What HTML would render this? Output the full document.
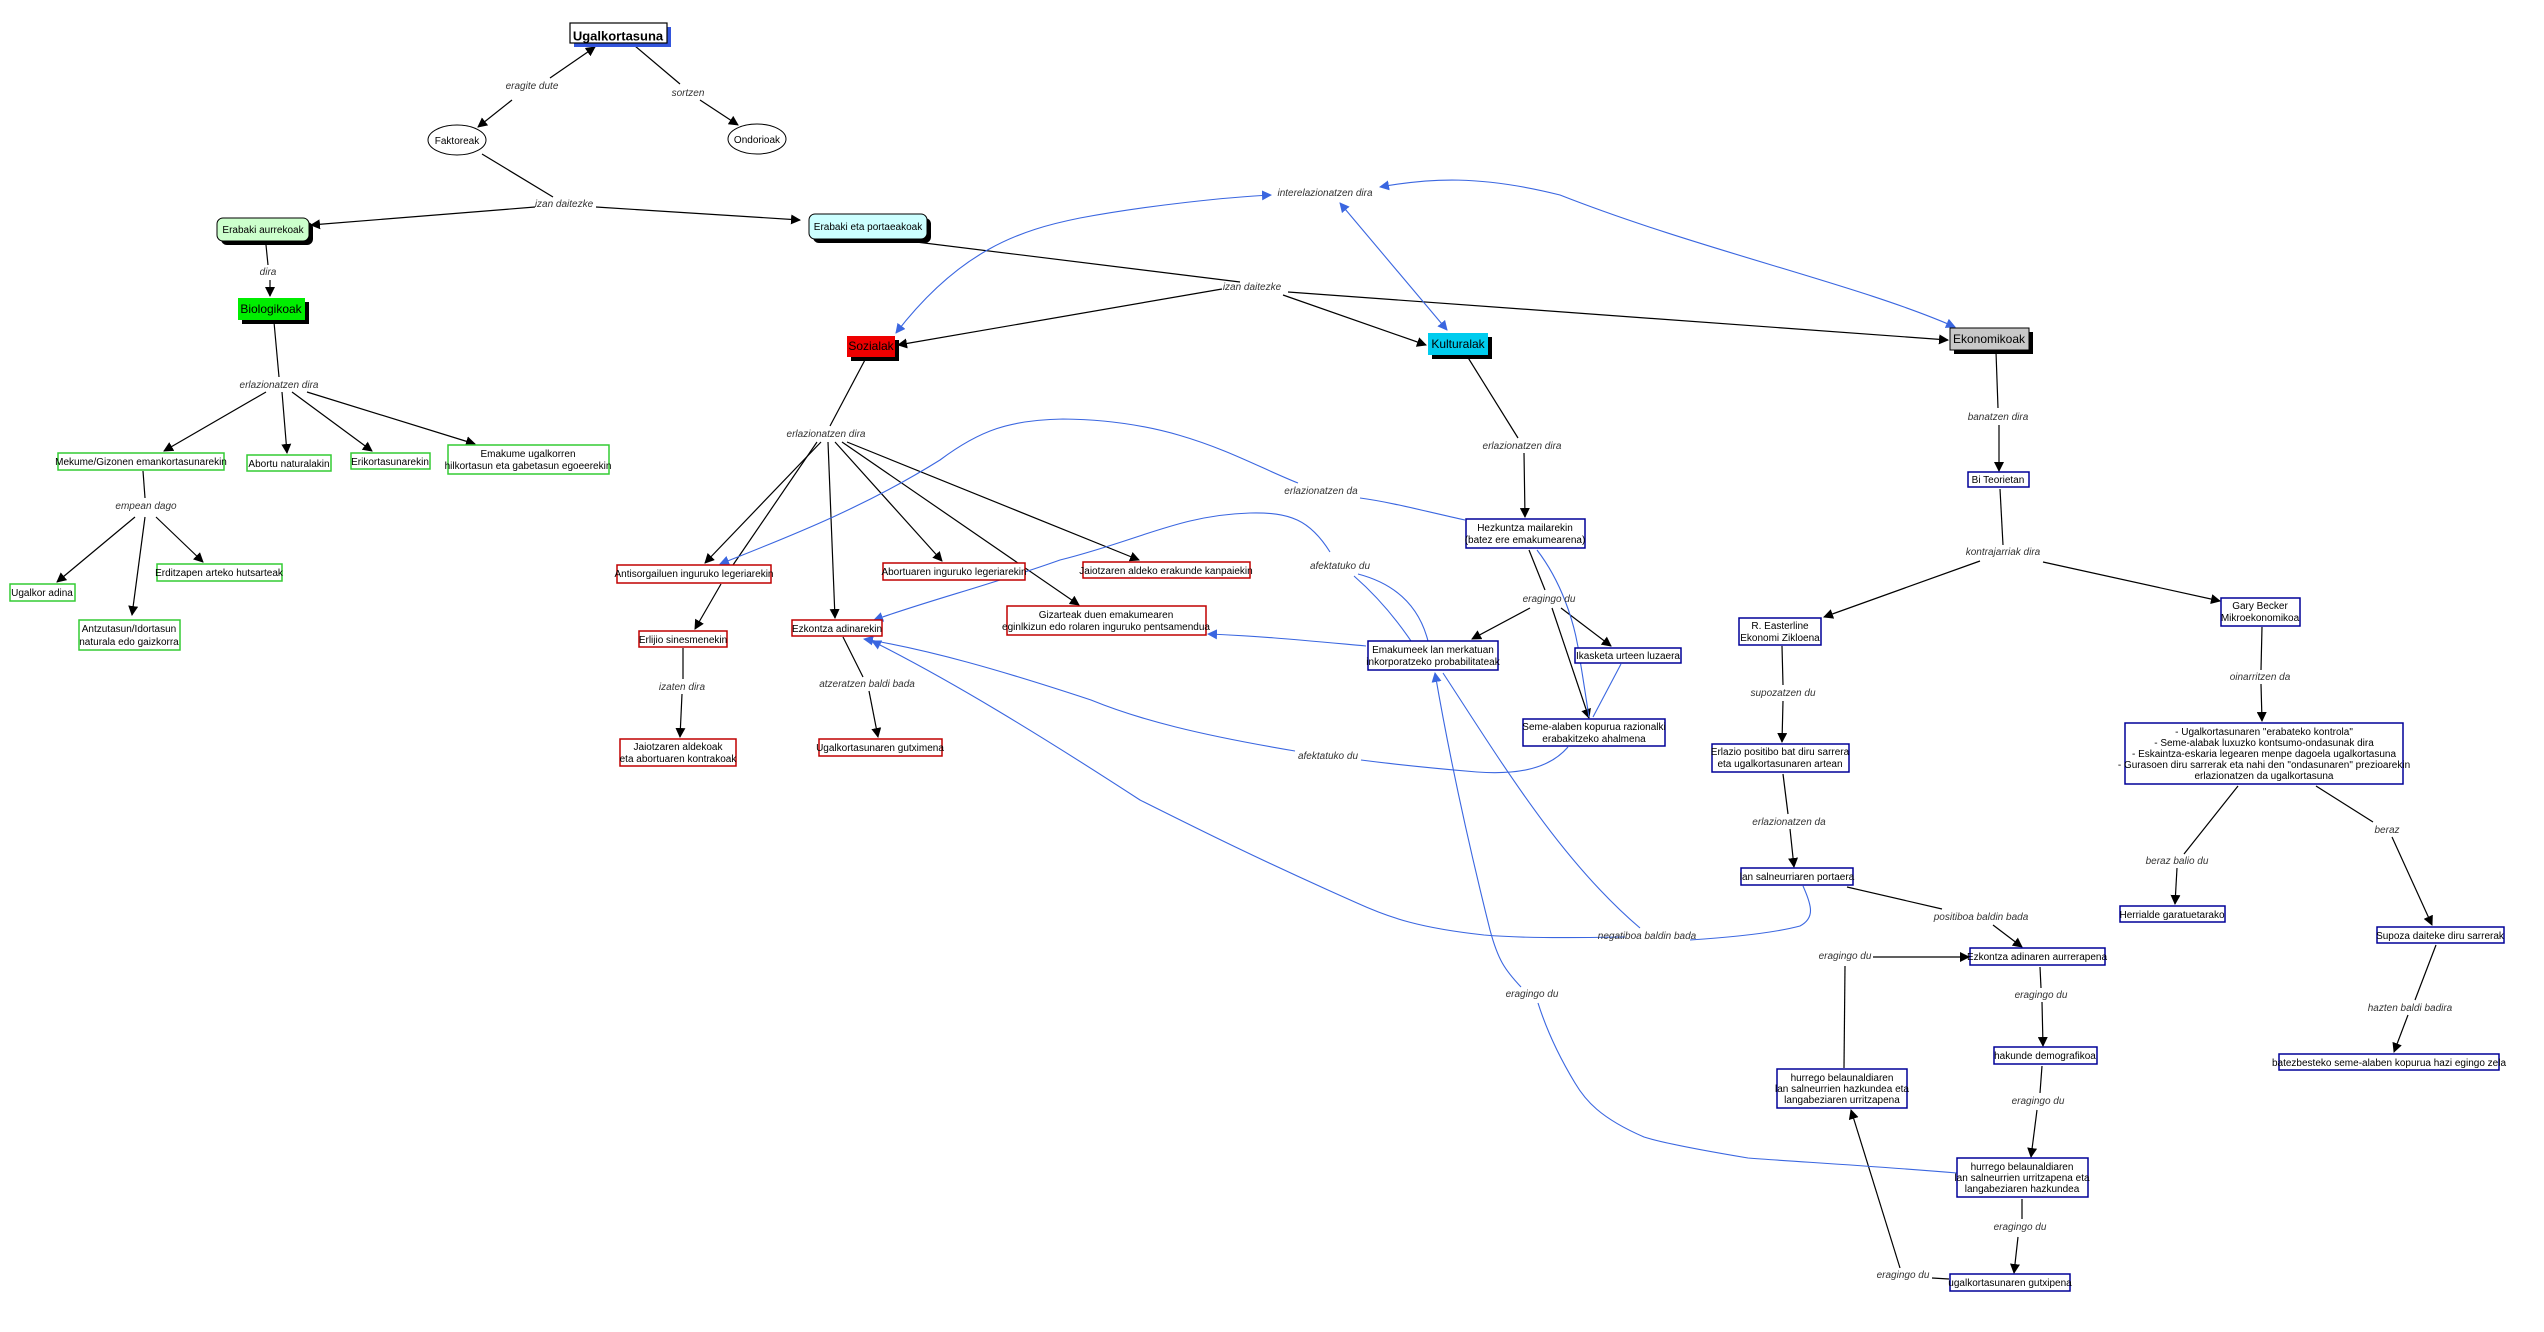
<!DOCTYPE html>
<html><head><meta charset="utf-8"><style>
html,body{margin:0;padding:0;background:#fff}
svg{display:block}
.n{font-family:"Liberation Sans",sans-serif;font-size:10px;fill:#000;text-anchor:middle}
.l{font-family:"Liberation Sans",sans-serif;font-size:10px;font-style:italic;fill:#333;text-anchor:middle}
.k{stroke:#000;stroke-width:1.2;fill:none}
.b{stroke:#3a66e0;stroke-width:1.1;fill:none}
.g{fill:#fff;stroke:#33cc33;stroke-width:1.5}
.r{fill:#fff;stroke:#c00000;stroke-width:1.5}
.v{fill:#fff;stroke:#000099;stroke-width:1.5}
</style></head><body>
<svg width="2544" height="1332" viewBox="0 0 2544 1332" xmlns="http://www.w3.org/2000/svg">
<defs>
<marker id="a" viewBox="0 0 10 10" refX="9" refY="5" markerWidth="10" markerHeight="10" markerUnits="userSpaceOnUse" orient="auto"><path d="M0,0L10,5L0,10z" fill="#000"/></marker>
<marker id="s" viewBox="0 0 10 10" refX="1" refY="5" markerWidth="10" markerHeight="10" markerUnits="userSpaceOnUse" orient="auto"><path d="M10,0L0,5L10,10z" fill="#000"/></marker>
<marker id="ba" viewBox="0 0 10 10" refX="9" refY="5" markerWidth="10" markerHeight="10" markerUnits="userSpaceOnUse" orient="auto"><path d="M0,0L10,5L0,10z" fill="#3a66e0"/></marker>
<marker id="bs" viewBox="0 0 10 10" refX="1" refY="5" markerWidth="10" markerHeight="10" markerUnits="userSpaceOnUse" orient="auto"><path d="M10,0L0,5L10,10z" fill="#3a66e0"/></marker>
</defs>

<!-- black connectors -->
<g class="k">
<line x1="478" y1="127" x2="512" y2="100" marker-start="url(#s)"/>
<line x1="550" y1="78" x2="595" y2="47" marker-end="url(#a)"/>
<line x1="635" y1="46" x2="680" y2="84"/>
<line x1="700" y1="100" x2="738" y2="125" marker-end="url(#a)"/>
<line x1="482" y1="154" x2="553" y2="197"/>
<line x1="535" y1="207" x2="311" y2="225" marker-end="url(#a)"/>
<line x1="596" y1="207" x2="800" y2="220" marker-end="url(#a)"/>
<line x1="266" y1="245" x2="268" y2="265"/>
<line x1="270" y1="280" x2="270" y2="296" marker-end="url(#a)"/>
<line x1="274" y1="322" x2="279" y2="377"/>
<line x1="266" y1="392" x2="164" y2="451" marker-end="url(#a)"/>
<line x1="282" y1="392" x2="287" y2="453" marker-end="url(#a)"/>
<line x1="292" y1="392" x2="372" y2="451" marker-end="url(#a)"/>
<line x1="307" y1="392" x2="475" y2="444" marker-end="url(#a)"/>
<line x1="143" y1="471" x2="145" y2="498"/>
<line x1="135" y1="517" x2="57" y2="582" marker-end="url(#a)"/>
<line x1="145" y1="517" x2="132" y2="615" marker-end="url(#a)"/>
<line x1="156" y1="517" x2="203" y2="562" marker-end="url(#a)"/>
<line x1="900" y1="240" x2="1240" y2="282"/>
<line x1="1222" y1="289" x2="898" y2="345" marker-end="url(#a)"/>
<line x1="1283" y1="295" x2="1426" y2="345" marker-end="url(#a)"/>
<line x1="1288" y1="292" x2="1948" y2="340" marker-end="url(#a)"/>
<line x1="866" y1="358" x2="830" y2="426"/>
<line x1="821" y1="442" x2="705" y2="563" marker-end="url(#a)"/>
<line x1="817" y1="442" x2="733" y2="565"/>
<line x1="828" y1="442" x2="835" y2="618" marker-end="url(#a)"/>
<line x1="835" y1="442" x2="942" y2="561" marker-end="url(#a)"/>
<line x1="842" y1="442" x2="1079" y2="605" marker-end="url(#a)"/>
<line x1="847" y1="442" x2="1139" y2="560" marker-end="url(#a)"/>
<line x1="721" y1="584" x2="695" y2="629" marker-end="url(#a)"/>
<line x1="683" y1="648" x2="683" y2="679"/>
<line x1="682" y1="694" x2="680" y2="737" marker-end="url(#a)"/>
<line x1="843" y1="637" x2="863" y2="677"/>
<line x1="869" y1="691" x2="878" y2="737" marker-end="url(#a)"/>
<line x1="1467" y1="356" x2="1518" y2="438"/>
<line x1="1524" y1="453" x2="1525" y2="517" marker-end="url(#a)"/>
<line x1="1529" y1="550" x2="1545" y2="590"/>
<line x1="1530" y1="608" x2="1472" y2="639" marker-end="url(#a)"/>
<line x1="1561" y1="608" x2="1611" y2="646" marker-end="url(#a)"/>
<line x1="1552" y1="608" x2="1589" y2="718" marker-end="url(#a)"/>
<line x1="1996" y1="352" x2="1998" y2="408"/>
<line x1="1999" y1="425" x2="1999" y2="471" marker-end="url(#a)"/>
<line x1="2000" y1="489" x2="2003" y2="545"/>
<line x1="1980" y1="561" x2="1824" y2="617" marker-end="url(#a)"/>
<line x1="2043" y1="562" x2="2220" y2="601" marker-end="url(#a)"/>
<line x1="1782" y1="646" x2="1783" y2="685"/>
<line x1="1783" y1="701" x2="1782" y2="742" marker-end="url(#a)"/>
<line x1="1783" y1="774" x2="1788" y2="814"/>
<line x1="1790" y1="829" x2="1794" y2="867" marker-end="url(#a)"/>
<line x1="1847" y1="887" x2="1942" y2="909"/>
<line x1="1993" y1="925" x2="2022" y2="947" marker-end="url(#a)"/>
<line x1="1844" y1="1068" x2="1845" y2="966"/>
<line x1="1873" y1="957" x2="1969" y2="957" marker-end="url(#a)"/>
<line x1="2040" y1="967" x2="2041" y2="988"/>
<line x1="2042" y1="1002" x2="2043" y2="1046" marker-end="url(#a)"/>
<line x1="2042" y1="1066" x2="2040" y2="1093"/>
<line x1="2037" y1="1110" x2="2031" y2="1157" marker-end="url(#a)"/>
<line x1="2022" y1="1199" x2="2022" y2="1219"/>
<line x1="2018" y1="1237" x2="2014" y2="1273" marker-end="url(#a)"/>
<line x1="1949" y1="1279" x2="1932" y2="1278"/>
<line x1="1900" y1="1268" x2="1851" y2="1110" marker-end="url(#a)"/>
<line x1="2262" y1="627" x2="2261" y2="670"/>
<line x1="2261" y1="684" x2="2262" y2="721" marker-end="url(#a)"/>
<line x1="2238" y1="786" x2="2184" y2="854"/>
<line x1="2177" y1="868" x2="2175" y2="904" marker-end="url(#a)"/>
<line x1="2316" y1="786" x2="2373" y2="822"/>
<line x1="2392" y1="837" x2="2432" y2="925" marker-end="url(#a)"/>
<line x1="2436" y1="945" x2="2415" y2="1000"/>
<line x1="2408" y1="1015" x2="2394" y2="1052" marker-end="url(#a)"/>
</g>

<!-- blue connectors -->
<g class="b">
<path d="M896,333 C960,250 1020,230 1080,218 C1150,205 1230,197 1271,195" marker-start="url(#bs)" marker-end="url(#ba)"/>
<path d="M1340,203 L1447,330" marker-start="url(#bs)" marker-end="url(#ba)"/>
<path d="M1380,187 C1430,178 1480,175 1560,195 C1700,250 1860,285 1955,327" marker-start="url(#bs)" marker-end="url(#ba)"/>
<path d="M1465,520 C1420,510 1390,502 1360,498"/>
<path d="M1298,483 C1240,460 1180,420 1063,419 C1010,420 980,430 940,460 C860,510 780,540 720,564" marker-end="url(#ba)"/>
<path d="M1411,641 C1390,610 1370,590 1354,576"/>
<path d="M1428,641 C1420,610 1400,585 1358,574"/>
<path d="M1330,552 C1310,520 1290,512 1250,513 C1180,515 1140,540 1060,560 C990,585 930,600 874,620" marker-end="url(#ba)"/>
<path d="M1366,646 C1300,640 1260,636 1208,634" marker-end="url(#ba)"/>
<path d="M1568,747 C1550,768 1520,775 1477,772 C1430,768 1400,765 1361,760"/>
<path d="M1295,751 C1200,735 1140,720 1091,700 C1000,670 930,650 864,639" marker-end="url(#ba)"/>
<path d="M1537,550 C1560,580 1575,620 1580,660 C1585,690 1587,705 1589,717"/>
<path d="M1621,664 L1593,717"/>
<path d="M1803,886 C1812,906 1815,918 1800,926 C1770,934 1720,938 1690,940"/>
<path d="M1625,937 C1560,938 1520,938 1484,935 C1420,928 1390,918 1357,903 C1260,860 1200,830 1140,800 C1040,735 950,680 872,641" marker-end="url(#ba)"/>
<path d="M1640,928 C1560,860 1500,760 1443,673"/>
<path d="M1957,1173 C1860,1165 1800,1162 1748,1158 C1700,1150 1660,1142 1644,1137 C1600,1118 1585,1100 1575,1083 C1555,1050 1545,1025 1538,1003"/>
<path d="M1521,987 C1505,970 1498,960 1490,930 C1470,850 1450,760 1435,673" marker-end="url(#ba)"/>
</g>

<!-- nodes -->
<rect x="574" y="27" width="97" height="20" fill="#3355dd"/>
<rect x="570" y="23" width="97" height="20" fill="#fff" stroke="#000" stroke-width="1.2"/>
<text x="618" y="37" class="n" style="font-size:13px;font-weight:bold" dominant-baseline="middle">Ugalkortasuna</text>

<ellipse cx="457" cy="140" rx="29" ry="15" fill="#fff" stroke="#000"/>
<text x="457" y="144" class="n">Faktoreak</text>
<ellipse cx="757" cy="139" rx="29" ry="15" fill="#fff" stroke="#000"/>
<text x="757" y="143" class="n">Ondorioak</text>

<rect x="221" y="222" width="92" height="23" rx="6" fill="#000"/>
<rect x="217" y="218" width="92" height="23" rx="6" fill="#ccffcc" stroke="#000"/>
<text x="263" y="233" class="n">Erabaki aurrekoak</text>

<rect x="813" y="218" width="118" height="25" rx="6" fill="#000"/>
<rect x="809" y="214" width="118" height="25" rx="6" fill="#ccffff" stroke="#000"/>
<text x="868" y="230" class="n">Erabaki eta portaeakoak</text>

<rect x="242" y="302" width="67" height="22" fill="#000"/>
<rect x="238" y="298" width="67" height="22" fill="#00ee00"/>
<text x="271" y="313" class="n" style="font-size:12px">Biologikoak</text>

<rect x="851" y="340" width="48" height="21" fill="#000"/>
<rect x="847" y="336" width="48" height="21" fill="#ee0000"/>
<text x="871" y="350" class="n" style="font-size:12px">Sozialak</text>

<rect x="1432" y="337" width="60" height="22" fill="#000"/>
<rect x="1428" y="333" width="60" height="22" fill="#00ccee"/>
<text x="1458" y="348" class="n" style="font-size:12px">Kulturalak</text>

<rect x="1954" y="332" width="79" height="22" fill="#000"/>
<rect x="1950" y="328" width="79" height="22" fill="#c8c8c8" stroke="#000"/>
<text x="1989" y="343" class="n" style="font-size:12px">Ekonomikoak</text>

<!-- green boxes -->
<rect x="58" y="453" width="166" height="17" class="g"/><text x="141" y="465" class="n">Mekume/Gizonen emankortasunarekin</text>
<rect x="247" y="455" width="84" height="16" class="g"/><text x="289" y="467" class="n">Abortu naturalakin</text>
<rect x="351" y="453" width="79" height="16" class="g"/><text x="390" y="465" class="n">Erikortasunarekin</text>
<rect x="448" y="445" width="161" height="29" class="g"/><text x="528" y="457" class="n">Emakume ugalkorren</text><text x="528" y="469" class="n">hilkortasun eta gabetasun egoeerekin</text>
<rect x="10" y="584" width="65" height="17" class="g"/><text x="42" y="596" class="n">Ugalkor adina</text>
<rect x="157" y="564" width="125" height="17" class="g"/><text x="219" y="576" class="n">Erditzapen arteko hutsarteak</text>
<rect x="79" y="620" width="101" height="30" class="g"/><text x="129" y="632" class="n">Antzutasun/Idortasun</text><text x="129" y="645" class="n">naturala edo gaizkorra</text>

<!-- red boxes -->
<rect x="617" y="565" width="154" height="18" class="r"/><text x="694" y="577" class="n">Antisorgailuen inguruko legeriarekin</text>
<rect x="883" y="563" width="142" height="17" class="r"/><text x="954" y="575" class="n">Abortuaren inguruko legeriarekin</text>
<rect x="1083" y="562" width="167" height="16" class="r"/><text x="1166" y="574" class="n">Jaiotzaren aldeko erakunde kanpaiekin</text>
<rect x="1007" y="606" width="199" height="29" class="r"/><text x="1106" y="618" class="n">Gizarteak duen emakumearen</text><text x="1106" y="630" class="n">eginlkizun edo rolaren inguruko pentsamendua</text>
<rect x="792" y="620" width="90" height="16" class="r"/><text x="837" y="632" class="n">Ezkontza adinarekin</text>
<rect x="639" y="631" width="88" height="16" class="r"/><text x="683" y="643" class="n">Erlijio sinesmenekin</text>
<rect x="620" y="739" width="116" height="27" class="r"/><text x="678" y="750" class="n">Jaiotzaren aldekoak</text><text x="678" y="762" class="n">eta abortuaren kontrakoak</text>
<rect x="819" y="739" width="123" height="17" class="r"/><text x="880" y="751" class="n">Ugalkortasunaren gutximena</text>

<!-- blue boxes -->
<rect x="1466" y="519" width="119" height="29" class="v"/><text x="1525" y="531" class="n">Hezkuntza mailarekin</text><text x="1525" y="543" class="n">(batez ere emakumearena)</text>
<rect x="1368" y="641" width="130" height="29" class="v"/><text x="1433" y="653" class="n">Emakumeek lan merkatuan</text><text x="1433" y="665" class="n">inkorporatzeko probabilitateak</text>
<rect x="1575" y="648" width="106" height="15" class="v"/><text x="1628" y="659" class="n">Ikasketa urteen luzaera</text>
<rect x="1523" y="719" width="142" height="27" class="v"/><text x="1594" y="730" class="n">Seme-alaben kopurua razionalki</text><text x="1594" y="742" class="n">erabakitzeko ahalmena</text>
<rect x="1968" y="472" width="61" height="15" class="v"/><text x="1998" y="483" class="n">Bi Teorietan</text>
<rect x="1739" y="618" width="82" height="27" class="v"/><text x="1780" y="629" class="n">R. Easterline</text><text x="1780" y="641" class="n">Ekonomi Zikloena</text>
<rect x="2221" y="598" width="79" height="28" class="v"/><text x="2260" y="609" class="n">Gary Becker</text><text x="2260" y="621" class="n">Mikroekonomikoa</text>
<rect x="1712" y="744" width="137" height="28" class="v"/><text x="1780" y="755" class="n">Erlazio positibo bat diru sarrera</text><text x="1780" y="767" class="n">eta ugalkortasunaren artean</text>
<rect x="2125" y="723" width="278" height="61" class="v"/>
<text x="2264" y="735" class="n">- Ugalkortasunaren "erabateko kontrola"</text>
<text x="2264" y="746" class="n">- Seme-alabak luxuzko kontsumo-ondasunak dira</text>
<text x="2264" y="757" class="n">- Eskaintza-eskaria legearen menpe dagoela ugalkortasuna</text>
<text x="2264" y="768" class="n">- Gurasoen diru sarrerak eta nahi den "ondasunaren" prezioarekin</text>
<text x="2264" y="779" class="n">erlazionatzen da ugalkortasuna</text>
<rect x="1741" y="868" width="112" height="17" class="v"/><text x="1797" y="880" class="n">lan salneurriaren portaera</text>
<rect x="2120" y="906" width="105" height="16" class="v"/><text x="2172" y="918" class="n">Herrialde garatuetarako</text>
<rect x="2377" y="927" width="127" height="16" class="v"/><text x="2440" y="939" class="n">Supoza daiteke diru sarrerak</text>
<rect x="1970" y="948" width="135" height="17" class="v"/><text x="2037" y="960" class="n">Ezkontza adinaren aurrerapena</text>
<rect x="1994" y="1047" width="103" height="17" class="v"/><text x="2045" y="1059" class="n">hakunde demografikoa</text>
<rect x="2279" y="1054" width="220" height="16" class="v"/><text x="2389" y="1066" class="n">batezbesteko seme-alaben kopurua hazi egingo zela</text>
<rect x="1777" y="1069" width="130" height="39" class="v"/><text x="1842" y="1081" class="n">hurrego belaunaldiaren</text><text x="1842" y="1092" class="n">lan salneurrien hazkundea eta</text><text x="1842" y="1103" class="n">langabeziaren urritzapena</text>
<rect x="1957" y="1158" width="131" height="39" class="v"/><text x="2022" y="1170" class="n">hurrego belaunaldiaren</text><text x="2022" y="1181" class="n">lan salneurrien urritzapena eta</text><text x="2022" y="1192" class="n">langabeziaren hazkundea</text>
<rect x="1950" y="1274" width="120" height="17" class="v"/><text x="2010" y="1286" class="n">ugalkortasunaren gutxipena</text>

<!-- labels -->
<g class="l">
<text x="532" y="89">eragite dute</text>
<text x="688" y="96">sortzen</text>
<text x="564" y="207">izan daitezke</text>
<text x="268" y="275">dira</text>
<text x="279" y="388">erlazionatzen dira</text>
<text x="146" y="509">empean dago</text>
<text x="1325" y="196">interelazionatzen dira</text>
<text x="1252" y="290">izan daitezke</text>
<text x="826" y="437">erlazionatzen dira</text>
<text x="1522" y="449">erlazionatzen dira</text>
<text x="682" y="690">izaten dira</text>
<text x="867" y="687">atzeratzen baldi bada</text>
<text x="1321" y="494">erlazionatzen da</text>
<text x="1340" y="569">afektatuko du</text>
<text x="1549" y="602">eragingo du</text>
<text x="1328" y="759">afektatuko du</text>
<text x="1998" y="420">banatzen dira</text>
<text x="2003" y="555">kontrajarriak dira</text>
<text x="1783" y="696">supozatzen du</text>
<text x="2260" y="680">oinarritzen da</text>
<text x="1789" y="825">erlazionatzen da</text>
<text x="2177" y="864">beraz balio du</text>
<text x="2387" y="833">beraz</text>
<text x="1981" y="920">positiboa baldin bada</text>
<text x="1845" y="959">eragingo du</text>
<text x="2041" y="998">eragingo du</text>
<text x="2410" y="1011">hazten baldi badira</text>
<text x="2038" y="1104">eragingo du</text>
<text x="1647" y="939">negatiboa baldin bada</text>
<text x="1532" y="997">eragingo du</text>
<text x="2020" y="1230">eragingo du</text>
<text x="1903" y="1278">eragingo du</text>
</g>
</svg>
</body></html>
